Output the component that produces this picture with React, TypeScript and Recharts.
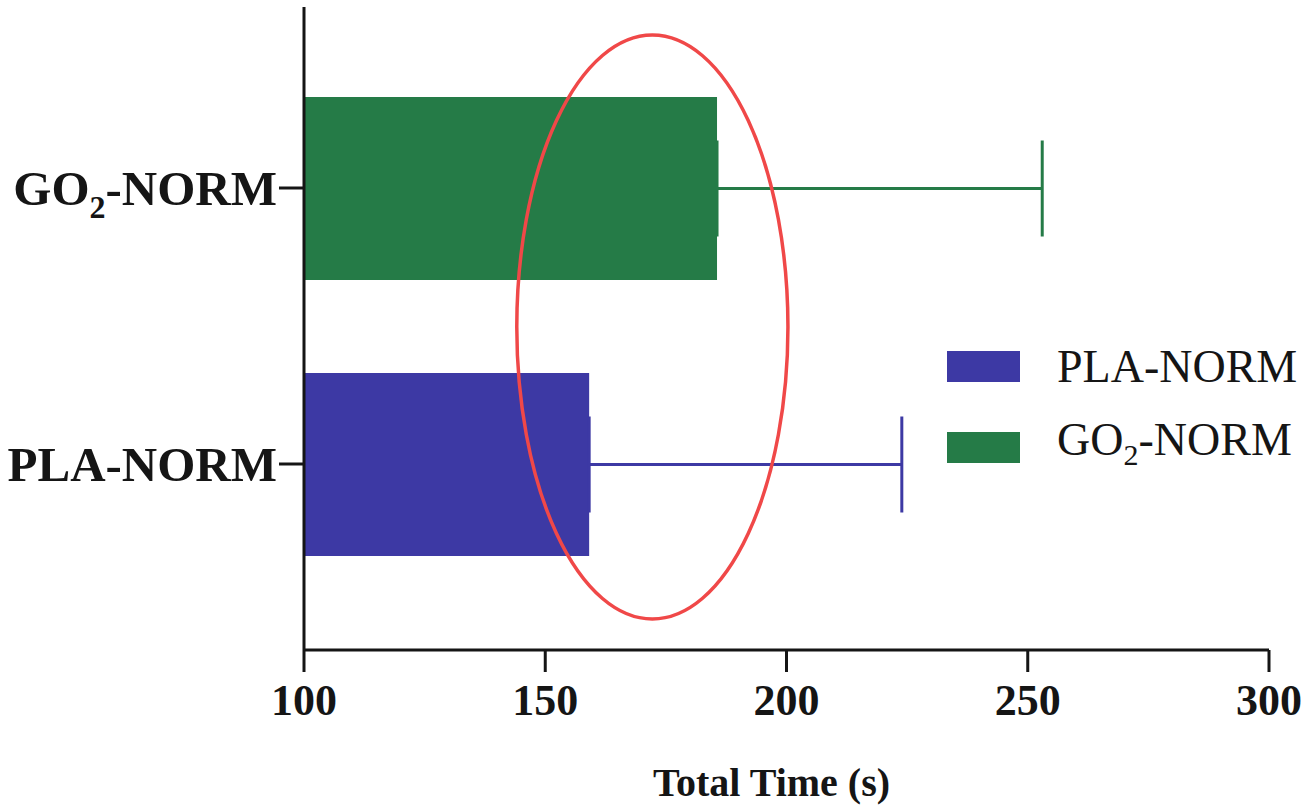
import React from 'react';
import { BarChart, Bar, XAxis, YAxis, Cell, ErrorBar, ReferenceArea, Legend } from 'recharts';

const categories = ['GO2-NORM', 'PLA-NORM'];
const meanTimes = [185.6, 159.1];
const errorTimes = [67.4, 64.8];
const barColors = ['#257b47', '#3d39a4'];
const xTicks = [100, 150, 200, 250, 300];
const legendOrder = ['PLA-NORM', 'GO2-NORM'];
const highlightRange = [144.1, 200.3];
const axisTitle = 'Total Time (s)';

const FONT = '"Liberation Serif", "Times New Roman", serif';
const INK = '#151515';

const data = categories.map((name, i) => ({
  name,
  value: meanTimes[i],
  errGO: name.startsWith('GO') ? [0, errorTimes[i]] : undefined,
  errPLA: name.startsWith('PLA') ? [0, errorTimes[i]] : undefined,
}));

const colorOf = (name: string) => barColors[categories.indexOf(name)];

function splitSub(text: string) {
  const m = text.match(/^([A-Z]+)(\d)(.*)$/);
  if (!m) return null;
  return { pre: m[1], sub: m[2], post: m[3] };
}

const CategoryTick = (props: any) => {
  const { x, y, payload } = props;
  const parts = splitSub(String(payload.value));
  return (
    <text x={x} y={y} dy="0.35em" textAnchor="end" fontFamily={FONT} fontWeight="bold" fontSize={49} fill={INK}>
      {parts ? (
        <>
          <tspan>{parts.pre}</tspan>
          <tspan dy={13} fontSize={32}>{parts.sub}</tspan>
          <tspan dy={-13}>{parts.post}</tspan>
        </>
      ) : (
        payload.value
      )}
    </text>
  );
};

const LegendContent = () => (
  <div style={{ fontFamily: FONT, fontSize: 46, color: INK }}>
    {legendOrder.map((name) => {
      const parts = splitSub(name);
      return (
        <div key={name} style={{ display: 'flex', alignItems: 'center', height: 81 }}>
          <div style={{ width: 73, height: 31, background: colorOf(name), marginRight: 37 }} />
          <span style={{ lineHeight: '46px', whiteSpace: 'nowrap' }}>
            {parts ? (
              <>
                {parts.pre}
                <sub style={{ fontSize: 30, verticalAlign: '-10px' }}>{parts.sub}</sub>
                {parts.post}
              </>
            ) : (
              name
            )}
          </span>
        </div>
      );
    })}
  </div>
);

const EllipseShape = (props: any) => {
  const { x, y, width, height } = props;
  const topInset = -15;
  const bottomInset = -17;
  const ry = (height - topInset - bottomInset) / 2;
  return (
    <ellipse
      cx={x + width / 2}
      cy={y + topInset + ry}
      rx={width / 2}
      ry={ry}
      fill="none"
      stroke="#f04848"
      strokeWidth={3.5}
    />
  );
};

export default function App() {
  return (
    <div style={{ position: 'absolute', left: 0, top: 0, width: 1314, height: 812, background: '#fff' }}>
      <BarChart
        width={1314}
        height={812}
        data={data}
        layout="vertical"
        margin={{ top: 7, right: 45, bottom: 0, left: 0 }}
      >
        <XAxis
          type="number"
          domain={[100, 300]}
          ticks={xTicks}
          allowDataOverflow
          height={162}
          tickSize={22}
          tickMargin={12}
          stroke={INK}
          strokeWidth={3}
          tickLine={{ stroke: INK, strokeWidth: 3 }}
          tick={{ fontFamily: FONT, fontWeight: 'bold', fontSize: 44, fill: INK }}
          label={{
            value: axisTitle,
            position: 'insideBottom',
            offset: 16,
            dx: -15,
            style: { fontFamily: FONT, fontWeight: 'bold', fontSize: 40, fill: INK },
          }}
        />
        <YAxis
          type="category"
          dataKey="name"
          width={304}
          tickSize={25}
          tickMargin={2}
          padding={{ top: 43, bottom: 48 }}
          stroke={INK}
          strokeWidth={3}
          tickLine={{ stroke: INK, strokeWidth: 3 }}
          tick={<CategoryTick />}
        />
        <Bar dataKey="value" barSize={183} isAnimationActive={false}>
          {data.map((d) => (
            <Cell key={d.name} fill={colorOf(d.name)} />
          ))}
          <ErrorBar dataKey="errGO" direction="x" width={48} stroke={barColors[0]} strokeWidth={3} isAnimationActive={false} />
          <ErrorBar dataKey="errPLA" direction="x" width={48} stroke={barColors[1]} strokeWidth={3} isAnimationActive={false} />
        </Bar>
        <ReferenceArea x1={highlightRange[0]} x2={highlightRange[1]} ifOverflow="visible" shape={<EllipseShape />} zIndex={1000} />
        <Legend
          layout="vertical"
          align="center"
          verticalAlign="middle"
          wrapperStyle={{ left: 947, top: 326, width: 367 }}
          content={<LegendContent />}
        />
      </BarChart>
    </div>
  );
}
